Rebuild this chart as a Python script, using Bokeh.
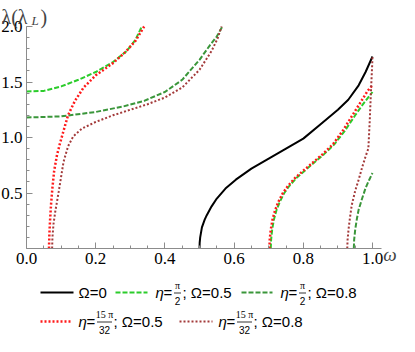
from bokeh.plotting import figure
from bokeh.models import Range1d, FixedTicker, PrintfTickFormatter, Label
from bokeh.layouts import column
from bokeh.embed import file_html
from bokeh.resources import INLINE
from bokeh.core.properties import value

# ---------------- data ----------------
x_ticks = [0.0, 0.2, 0.4, 0.6, 0.8, 1.0]
y_ticks = [0.5, 1.0, 1.5, 2.0]

# Omega = 0 (black solid)
w_0 = [0.5, 0.5005, 0.502, 0.507, 0.515, 0.521, 0.535, 0.55, 0.575, 0.605, 0.65, 0.7, 0.75, 0.8, 0.85, 0.9, 0.93, 0.96, 0.98, 1.0]
l_0 = [0.0, 0.05, 0.10, 0.19, 0.26, 0.30, 0.38, 0.45, 0.54, 0.62, 0.72, 0.81, 0.90, 0.99, 1.12, 1.25, 1.34, 1.47, 1.59, 1.73]

# eta = pi/2 ; Omega = 0.5 (light green dashed)
w_g5a = [0.0, 0.05, 0.1, 0.15, 0.2, 0.25, 0.29, 0.315, 0.333]
l_g5a = [1.414, 1.42, 1.46, 1.52, 1.59, 1.68, 1.78, 1.88, 2.0]
w_g5b = [0.706, 0.707, 0.71, 0.715, 0.722, 0.732, 0.745, 0.76, 0.78, 0.80, 0.83, 0.86, 0.89, 0.92, 0.95, 0.97, 0.99, 1.0]
l_g5b = [0.0, 0.08, 0.17, 0.26, 0.34, 0.42, 0.50, 0.565, 0.635, 0.69, 0.77, 0.85, 0.94, 1.06, 1.20, 1.29, 1.37, 1.41]

# eta = pi/2 ; Omega = 0.8 (dark green dashed)
w_g8a = [0.0, 0.1, 0.2, 0.28, 0.34, 0.4, 0.45, 0.5, 0.53, 0.55, 0.566]
l_g8a = [1.18, 1.19, 1.23, 1.28, 1.33, 1.41, 1.52, 1.70, 1.83, 1.91, 2.0]
w_g8b = [0.946, 0.947, 0.95, 0.955, 0.96, 0.97, 0.98, 0.99, 1.0]
l_g8b = [0.0, 0.08, 0.17, 0.27, 0.35, 0.45, 0.545, 0.615, 0.68]

# eta = 15pi/32 ; Omega = 0.5 (red dotted)
w_r5a = [0.065, 0.066, 0.068, 0.071, 0.075, 0.08, 0.088, 0.097, 0.108, 0.12, 0.14, 0.165, 0.2, 0.25, 0.286, 0.315, 0.34]
l_r5a = [0.0, 0.12, 0.25, 0.40, 0.55, 0.70, 0.84, 0.95, 1.07, 1.20, 1.33, 1.45, 1.56, 1.67, 1.77, 1.87, 2.0]
w_r5b = [0.702, 0.703, 0.706, 0.711, 0.718, 0.728, 0.741, 0.756, 0.776, 0.796, 0.826, 0.856, 0.886, 0.916, 0.946, 0.966, 0.986, 1.0]
l_r5b = [0.0, 0.08, 0.17, 0.26, 0.34, 0.42, 0.50, 0.565, 0.635, 0.69, 0.77, 0.85, 0.94, 1.07, 1.22, 1.32, 1.42, 1.47]

# eta = 15pi/32 ; Omega = 0.8 (brown dotted)
w_b8a = [0.074, 0.075, 0.078, 0.083, 0.093, 0.107, 0.12, 0.135, 0.16, 0.2, 0.25, 0.3, 0.35, 0.4, 0.45, 0.5, 0.535, 0.552, 0.564]
l_b8a = [0.0, 0.10, 0.22, 0.33, 0.51, 0.78, 0.92, 1.01, 1.08, 1.14, 1.20, 1.25, 1.30, 1.36, 1.45, 1.61, 1.78, 1.89, 2.0]
w_b8b = [0.927, 0.928, 0.931, 0.935, 0.94, 0.95, 0.96, 0.97, 0.98, 0.988, 0.992, 0.996, 0.999, 1.0]
l_b8b = [0.0, 0.08, 0.18, 0.28, 0.39, 0.52, 0.62, 0.73, 0.83, 0.90, 1.15, 1.45, 1.65, 1.73]

# ---------------- styles ----------------
C_BLACK = "#000000"
C_LGREEN = "#2bcc2b"
C_DGREEN = "#3a963a"
C_RED = "#ff1a1a"
C_BROWN = "#a33a3a"
AX = "#8c8c8c"
SERIF = "Liberation Serif"
SANS = "Liberation Sans"

styles = {
    "black": dict(line_color=C_BLACK, line_width=2),
    "lg": dict(line_color=C_LGREEN, line_width=2, line_dash="5 2"),
    "dg": dict(line_color=C_DGREEN, line_width=2, line_dash="5 2"),
    "red": dict(line_color=C_RED, line_width=2.5, line_dash="2 2"),
    "brown": dict(line_color=C_BROWN, line_width=2, line_dash="2 2"),
}

# ---------------- main plot ----------------
W, H = 399, 276
X0PX, SX = 26, 346          # pixel of omega = 0, pixels per unit
Y2PX, SY = 26, 111          # pixel (from top) of lambda = 2, pixels per unit
x_rng = Range1d(-X0PX / SX, (W - X0PX) / SX)
y_rng = Range1d(2.0 - (H - Y2PX) / SY, 2.0 + Y2PX / SY)

p = figure(width=W, height=H, x_range=x_rng, y_range=y_rng,
           output_backend="svg", toolbar_location=None,
           min_border_left=0, min_border_right=0, min_border_top=0, min_border_bottom=0)
p.outline_line_color = None
p.grid.visible = False

p.xaxis.ticker = FixedTicker(ticks=x_ticks, minor_ticks=[round(0.05 * i, 2) for i in range(21)])
p.yaxis.ticker = FixedTicker(ticks=y_ticks, minor_ticks=[round(0.1 * i, 1) for i in range(1, 21)])
p.xaxis.fixed_location = 0
p.yaxis.fixed_location = 0
p.xaxis.bounds = (0, 1.025)
p.yaxis.bounds = (0, 2.0)
for ax in (p.xaxis[0], p.yaxis[0]):
    ax.formatter = PrintfTickFormatter(format="%.1f")
    ax.axis_line_color = AX
    ax.major_tick_line_color = AX
    ax.minor_tick_line_color = AX
    ax.major_tick_in = 6
    ax.major_tick_out = 0
    ax.minor_tick_in = 3
    ax.minor_tick_out = 0
    ax.major_label_text_font = SERIF
    ax.major_label_text_font_size = "17px"
    ax.major_label_text_color = "black"
    ax.major_label_standoff = 4

p.line(w_0, l_0, **styles["black"])
p.line(w_g5a, l_g5a, **styles["lg"])
p.line(w_g5b, l_g5b, **styles["lg"])
p.line(w_g8a, l_g8a, **styles["dg"])
p.line(w_g8b, l_g8b, **styles["dg"])
p.line(w_r5a, l_r5a, **styles["red"])
p.line(w_r5b, l_r5b, **styles["red"])
p.line(w_b8a, l_b8a, **styles["brown"])
p.line(w_b8b, l_b8b, **styles["brown"])

# axis labels
p.add_layout(Label(x=1.025, y=0, text="ω", x_offset=2, y_offset=-6, text_baseline="middle",
                   text_font=SERIF, text_font_style="italic", text_font_size="19px"))
p.add_layout(Label(x=0, y=2.0, text="λ(λ", x_offset=-25, y_offset=10, text_baseline="alphabetic",
                   text_font=SERIF, text_font_size="20px"))
p.add_layout(Label(x=0, y=2.0, text="L", x_offset=5, y_offset=6, text_baseline="alphabetic",
                   text_font=SERIF, text_font_style="italic", text_font_size="13px"))
p.add_layout(Label(x=0, y=2.0, text=")", x_offset=14, y_offset=10, text_baseline="alphabetic",
                   text_font=SERIF, text_font_size="20px"))

# ---------------- legend (separate panel) ----------------
lg = figure(width=399, height=60, x_range=Range1d(0, 399), y_range=Range1d(60, 0),
            output_backend="svg", toolbar_location=None,
            min_border_left=0, min_border_right=0, min_border_top=0, min_border_bottom=0)
lg.axis.visible = False
lg.grid.visible = False
lg.outline_line_color = None

row1, row2 = 16, 45
lg.line([40, 73], [row1, row1], **styles["black"])
lg.line([115, 147], [row1, row1], **styles["lg"])
lg.line([241, 272], [row1, row1], **styles["dg"])
lg.line([40, 72], [row2, row2], **styles["red"])
lg.line([179, 212], [row2, row2], **styles["brown"])

def txt(x, y, t, size="15px", style="normal", align="left", font=SANS):
    lg.text(x=[x], y=[y], text=[t], text_font=value(font), text_font_size=size,
            text_font_style=style, text_align=align, text_baseline="middle", text_color="black")

def frac(xc, y, num, den, w):
    txt(xc, y - 7, num, size="10px", align="center", font=SERIF)
    txt(xc, y + 8, den, size="10px", align="center", font=SANS)
    lg.line([xc - w / 2, xc + w / 2], [y + 0.5, y + 0.5], line_color="black", line_width=0.8)

txt(78, row1, "Ω=0")
txt(155, row1, "η", style="italic")
txt(163, row1, "=")
frac(177, row1, "π", "2", 7)
txt(182, row1, "; Ω=0.5")
txt(280, row1, "η", style="italic")
txt(288, row1, "=")
frac(302, row1, "π", "2", 7)
txt(307, row1, "; Ω=0.8")
txt(78, row2, "η", style="italic")
txt(86, row2, "=")
frac(104, row2, "15 π", "32", 15)
txt(113, row2, "; Ω=0.5")
txt(218, row2, "η", style="italic")
txt(226, row2, "=")
frac(244, row2, "15 π", "32", 15)
txt(253, row2, "; Ω=0.8")

layout = column(p, lg, spacing=0)
open("out.html", "w").write(file_html(layout, INLINE))
